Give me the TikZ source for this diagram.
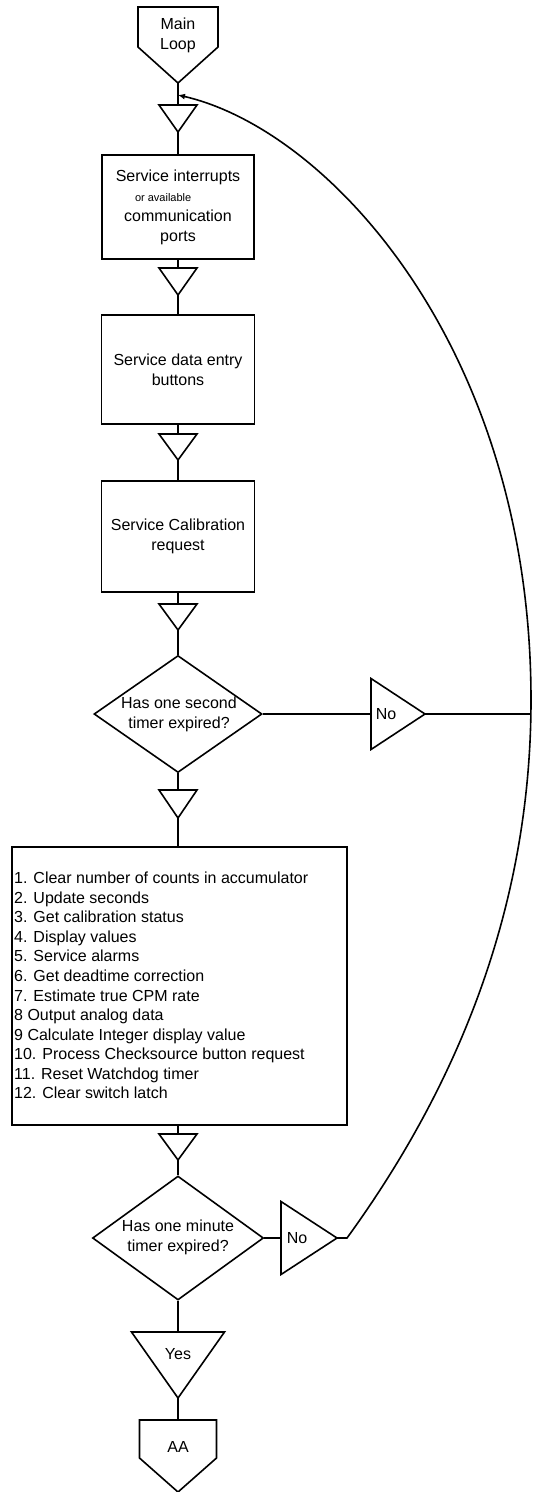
\documentclass[tikz,border=0pt]{standalone}
\usepackage{fontspec}
\setmainfont{Liberation Sans}
\usetikzlibrary{shapes.geometric,arrows.meta}

\begin{document}
\begin{tikzpicture}[x=1pt,y=-1pt,
  flow/.style={line width=1.6pt, line join=miter},
  box/.style={draw, line width=1.6pt, rectangle, inner sep=0pt,
    font=\fontsize{16}{20}\selectfont, align=center},
  decision/.style={draw, line width=1.6pt, diamond, inner sep=0pt},
  lbl/.style={font=\fontsize{16}{20}\selectfont, align=center, inner sep=0pt},
  % down-pointing connector triangle: width / height
  pics/downtri/.style args={#1/#2}{code={
      \draw[flow] (-#1/2,0) -- (#1/2,0) -- (0,#2) -- cycle;
      \coordinate (-top) at (0,0);
      \coordinate (-tip) at (0,#2);}},
  % right-pointing connector triangle: length / height
  pics/righttri/.style args={#1/#2}{code={
      \draw[flow] (0,-#2/2) -- (#1,0) -- (0,#2/2) -- cycle;
      \coordinate (-in) at (0,0);
      \coordinate (-tip) at (#1,0);}},
  % off-page connector: width / side height / point depth
  pics/offpage/.style args={#1/#2/#3}{code={
      \draw[flow] (-#1/2,0) -- (#1/2,0) -- (#1/2,#2) -- (0,#3) -- (-#1/2,#2) -- cycle;
      \coordinate (-top) at (0,0);
      \coordinate (-tip) at (0,#3);}}
]
\useasboundingbox (0,0) rectangle (533,1492);

% start connector
\pic (m) at (178,7) {offpage=80/40/76};
\node[lbl] (mlbl) at (178,35) {Main\\Loop};

% process boxes
\pic (t1) at (178,105) {downtri=38/27};
\node[box, minimum width=152pt, minimum height=104pt] (b1) at (178,207)
  {Service interrupts\\\makebox[86pt][l]{\fontsize{11}{13}\selectfont or available}\\communication\\ports};
\pic (t2) at (178,268) {downtri=38/27};
\node[box, minimum width=153pt, minimum height=109pt] (b2) at (178,369.5)
  {Service data entry\\buttons};
\pic (t3) at (178,434) {downtri=38/26};
\node[box, minimum width=153pt, minimum height=111pt] (b3) at (178,536.5)
  {Service Calibration\\request};
\pic (t4) at (178,604) {downtri=38/26};

% one-second decision
\node[decision, minimum width=168pt, minimum height=117pt] (d1) at (178,714) {};
\node[lbl] (d1t) at (179,714.5) {Has one second\\timer expired?};
\pic (n1) at (371,714) {righttri=54/71};
\node[lbl] (n1t) at (386,714) {No};
\coordinate (rj) at (531,714);

% once-per-second tasks
\pic (t5) at (178,790) {downtri=38/28};
\node[box, minimum width=335pt, minimum height=278pt] (b4) at (179.5,986) {};
\node[anchor=west, align=left, inner sep=0pt,
  font=\fontsize{16}{19.55}\selectfont] (list) at (14,985.5)
  {1. Clear number of counts in accumulator\\
   2. Update seconds\\
   3. Get calibration status\\
   4. Display values\\
   5. Service alarms\\
   6. Get deadtime correction\\
   7. Estimate true CPM rate\\
   8 Output analog data\\
   9 Calculate Integer display value\\
   10. Process Checksource button request\\
   11. Reset Watchdog timer\\
   12. Clear switch latch};
\pic (t6) at (178,1134) {downtri=38/26};

% one-minute decision
\node[decision, minimum width=171pt, minimum height=124pt] (d2) at (178,1238) {};
\node[lbl] (d2t) at (178,1237) {Has one minute\\timer expired?};
\pic (n2) at (281,1238) {righttri=56/73};
\node[lbl] (n2t) at (297,1238) {No};
\coordinate (cstart) at (347,1238);
\coordinate (cmid) at (531,700);
\coordinate (cend) at (178,95);

\pic (yes) at (178,1332) {downtri=93/66};
\node[lbl] (yest) at (178,1354) {Yes};
\pic (aa) at (178,1420) {offpage=77/38/72};
\node[lbl] (aat) at (178,1447) {AA};

% main flow
\draw[flow] (m-tip) -- (t1-top);
\draw[flow] (t1-tip) -- (b1.north);
\draw[flow] (b1.south) -- (t2-top);
\draw[flow] (t2-tip) -- (b2.north);
\draw[flow] (b2.south) -- (t3-top);
\draw[flow] (t3-tip) -- (b3.north);
\draw[flow] (b3.south) -- (t4-top);
\draw[flow] (t4-tip) -- (d1.north);
\draw[flow] (d1.south) -- (t5-top);
\draw[flow] (t5-tip) -- (b4.north -| t5-tip);
\draw[flow] (b4.south -| t6-top) -- (t6-top);
\draw[flow] (t6-tip) -- (d2.north);
\draw[flow] (d2.south) -- (yes-top);
\draw[flow] (yes-tip) -- (aa-top);

% "No" branches back to the top of the loop
\draw[flow] (d1.east) -- (n1-in);
\draw[flow] (n1-tip) -- (rj);
\draw[flow] (d2.east) -- (n2-in);
\draw[flow, -{Latex[length=7pt,width=6pt]}] (n2-tip) -- (cstart)
  .. controls (440,1110) and (531,930) .. (cmid)
  .. controls (531,350) and (330,130) .. (cend);
\end{tikzpicture}
\end{document}
